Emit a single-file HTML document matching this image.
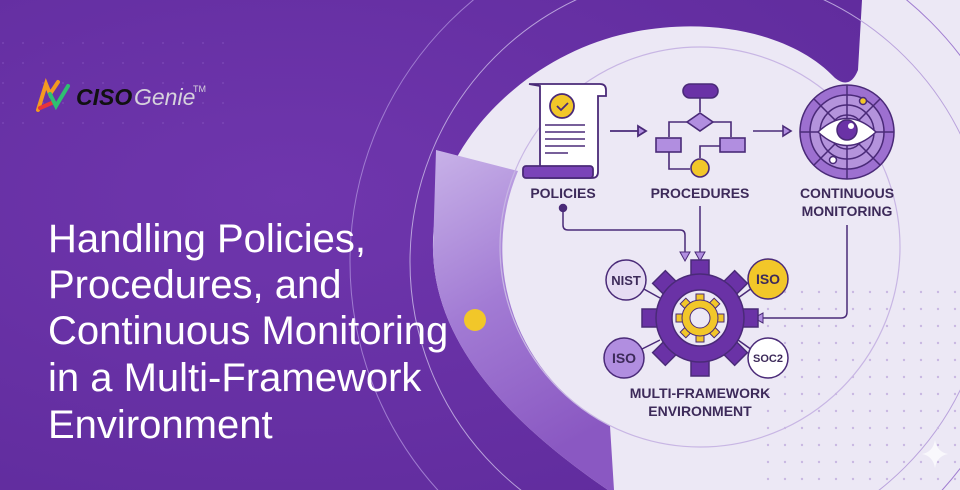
<!DOCTYPE html>
<html><head><meta charset="utf-8"><style>
html,body{margin:0;padding:0;width:960px;height:490px;overflow:hidden;background:#6a32a6}
svg{display:block;position:absolute;left:0;top:0}
text{font-family:"Liberation Sans",sans-serif}
</style></head><body>
<svg width="960" height="490" viewBox="0 0 960 490" xmlns="http://www.w3.org/2000/svg">
<defs>
<radialGradient id="bg" cx="0.3" cy="0.4" r="0.8"><stop offset="0" stop-color="#6f36ad"/><stop offset="1" stop-color="#5f2b9c"/></radialGradient>
<linearGradient id="cres" x1="0" y1="0" x2="0.3" y2="1"><stop offset="0" stop-color="#c8b2e8"/><stop offset="0.5" stop-color="#a27bd4"/><stop offset="1" stop-color="#8a58c2"/></linearGradient>
<pattern id="dots" width="17" height="17" patternUnits="userSpaceOnUse"><circle cx="3" cy="3" r="1.2" fill="#c9b8e2"/></pattern>
<pattern id="dots2" width="20" height="20" patternUnits="userSpaceOnUse"><circle cx="3" cy="3" r="0.9" fill="#8b5cc4"/></pattern>
</defs>
<rect width="960" height="490" fill="url(#bg)"/>
<rect x="0" y="30" width="240" height="100" fill="url(#dots2)" opacity="0.6"/>
<path d="M433 250 C430 150 520 60 620 35 C700 15 790 30 835 78 Q850 90 858 70 L862 0 L960 0 L960 490 L608 490 C520 430 435 350 433 250 Z" fill="#ece8f5"/>
<path d="M436 150 L518 171 A200 200 0 0 0 610 426 L614 490 L608 490 C520 430 435 350 433 250 Z" fill="url(#cres)"/>
<circle cx="700" cy="247" r="200" fill="none" stroke="#c8b6e4" stroke-width="1.2"/>
<circle cx="690" cy="262" r="340" fill="none" stroke="#9f7bd0" stroke-width="1"/>
<circle cx="700" cy="262" r="290" fill="none" stroke="#b9a2dc" stroke-width="1"/>
<rect x="760" y="280" width="200" height="210" fill="url(#dots)"/>
<g transform="translate(36,80)">
<path d="M2 30 L10 4 L14 14 L22 2" fill="none" stroke="#f39a1f" stroke-width="4" stroke-linecap="round"/>
<path d="M4 28 L18 22" stroke="#e8343a" stroke-width="4" stroke-linecap="round"/>
<path d="M14 14 L20 26 L32 6" fill="none" stroke="#2fbf71" stroke-width="4" stroke-linecap="round"/>
<text x="40" y="25" font-size="23" font-weight="bold" font-style="italic" fill="#111">CISO</text>
<text x="98" y="25" font-size="23" font-style="italic" fill="#d6d2dc">Genie</text>
<text x="157" y="12" font-size="9" fill="#d6d2dc">TM</text>
</g>
<g fill="#ffffff" font-size="40">
<text x="48" y="252">Handling Policies,</text>
<text x="48" y="298">Procedures, and</text>
<text x="48" y="344">Continuous Monitoring</text>
<text x="48" y="391">in a Multi-Framework</text>
<text x="48" y="438">Environment</text>
</g>
<circle cx="475" cy="320" r="11" fill="#f2c729"/>
<g stroke="#4a2a78" stroke-width="1.8">
<path d="M529 84 H600 Q606 84 606 90 V96 H598 V172 Q598 178 592 178 H540 V86 Z" fill="#fff"/>
<rect x="523" y="166" width="70" height="12" rx="3" fill="#7a44b8"/>
<circle cx="562" cy="106" r="12" fill="#f2c729"/>
<path d="M557 106 l4 4 l7 -7" fill="none"/>
<path d="M545 125H585M545 132H585M545 139H585M545 146H585M545 153H568" stroke-width="1.5"/>
<path d="M610 131H640" fill="none"/><path d="M638 126 L646 131 L638 136Z" fill="#b18ee0"/>
</g>
<g stroke="#4a2a78" stroke-width="1.6" fill="none">
<rect x="683" y="84" width="35" height="14" rx="7" fill="#6a32a6"/>
<path d="M700 98V112"/>
<path d="M700 113 L713 122 L700 131 L687 122Z" fill="#b18ee0"/>
<path d="M687 122H669V137M713 122H731V137"/>
<rect x="656" y="138" width="25" height="14" fill="#b18ee0"/>
<rect x="720" y="138" width="25" height="14" fill="#b18ee0"/>
<path d="M669 152V169H690M720 146H700V158"/>
<circle cx="700" cy="168" r="9" fill="#f2c729"/>
<path d="M753 131H785"/><path d="M783 126 L791 131 L783 136Z" fill="#b18ee0"/>
</g>
<g stroke="#4a2a78" stroke-width="1.5" fill="none">
<circle cx="847" cy="132" r="47" fill="#9d70d0"/>
<circle cx="847" cy="132" r="37" fill="#b493dc"/>
<circle cx="847" cy="132" r="27"/>
<circle cx="847" cy="132" r="17"/>
<path d="M800 132H894M847 85V179M814 99L880 165M880 99L814 165"/>
<path d="M818 132 Q847 105 876 132 Q847 159 818 132Z" fill="#fff"/>
<circle cx="847" cy="130" r="10" fill="#6a32a6"/>
<circle cx="851" cy="126" r="3" fill="#fff" stroke="none"/>
<circle cx="863" cy="101" r="3.5" fill="#f2c729"/>
<circle cx="833" cy="160" r="3.5" fill="#fff"/>
</g>
<g fill="#3d2a5a" font-size="14" font-weight="bold" text-anchor="middle">
<text x="563" y="198">POLICIES</text>
<text x="700" y="198">PROCEDURES</text>
<text x="847" y="198">CONTINUOUS</text>
<text x="847" y="216">MONITORING</text>
<text x="700" y="398">MULTI-FRAMEWORK</text>
<text x="700" y="416">ENVIRONMENT</text>
</g>
<g stroke="#4a2a78" stroke-width="1.5" fill="none">
<circle cx="563" cy="208" r="3.5" fill="#4a2a78"/>
<path d="M563 208V225Q563 230 568 230H680Q685 230 685 235V252"/>
<path d="M700 206V252"/>
<path d="M847 225V312Q847 318 841 318H762"/>
</g>
<g fill="#b18ee0" stroke="#4a2a78" stroke-width="1">
<path d="M680 252H690L685 261Z"/><path d="M695 252H705L700 261Z"/>
<path d="M763 313V323L754 318Z"/>
</g>
<g transform="translate(700,318)">
<g fill="#6a32a6" stroke="#4a2a78" stroke-width="1.5">
<g id="t"><rect x="-9" y="-58" width="18" height="20"/></g>
<use href="#t" transform="rotate(45)"/><use href="#t" transform="rotate(90)"/><use href="#t" transform="rotate(135)"/>
<use href="#t" transform="rotate(180)"/><use href="#t" transform="rotate(225)"/><use href="#t" transform="rotate(270)"/><use href="#t" transform="rotate(315)"/>
<circle r="44"/>
</g>
<circle r="28" fill="#ece8f5" stroke="#4a2a78" stroke-width="1.5"/>
<g fill="#f2c729" stroke="#4a2a78" stroke-width="1">
<g id="y"><rect x="-4" y="-24" width="8" height="8"/></g>
<use href="#y" transform="rotate(45)"/><use href="#y" transform="rotate(90)"/><use href="#y" transform="rotate(135)"/>
<use href="#y" transform="rotate(180)"/><use href="#y" transform="rotate(225)"/><use href="#y" transform="rotate(270)"/><use href="#y" transform="rotate(315)"/>
<circle r="18"/>
</g>
<circle r="10" fill="#ece8f5" stroke="#4a2a78" stroke-width="1"/>
</g>
<g stroke="#4a2a78" stroke-width="1.5">
<path d="M642 288L660 298M752 288L738 298M640 350L660 340M752 350L738 340"/>
<circle cx="626" cy="280" r="20" fill="#e6dcf3"/>
<circle cx="768" cy="279" r="20" fill="#f2c729"/>
<circle cx="624" cy="358" r="20" fill="#b18ee0"/>
<circle cx="768" cy="358" r="20" fill="#fff"/>
</g>
<g fill="#3d2a5a" font-weight="bold" text-anchor="middle">
<text x="626" y="285" font-size="13">NIST</text>
<text x="768" y="284" font-size="14">ISO</text>
<text x="624" y="363" font-size="14">ISO</text>
<text x="768" y="362" font-size="11">SOC2</text>
</g>
<path d="M935 440 Q937 452 948 454 Q937 456 935 468 Q933 456 922 454 Q933 452 935 440Z" fill="#fff" opacity="0.7"/>
</svg>
</body></html>
